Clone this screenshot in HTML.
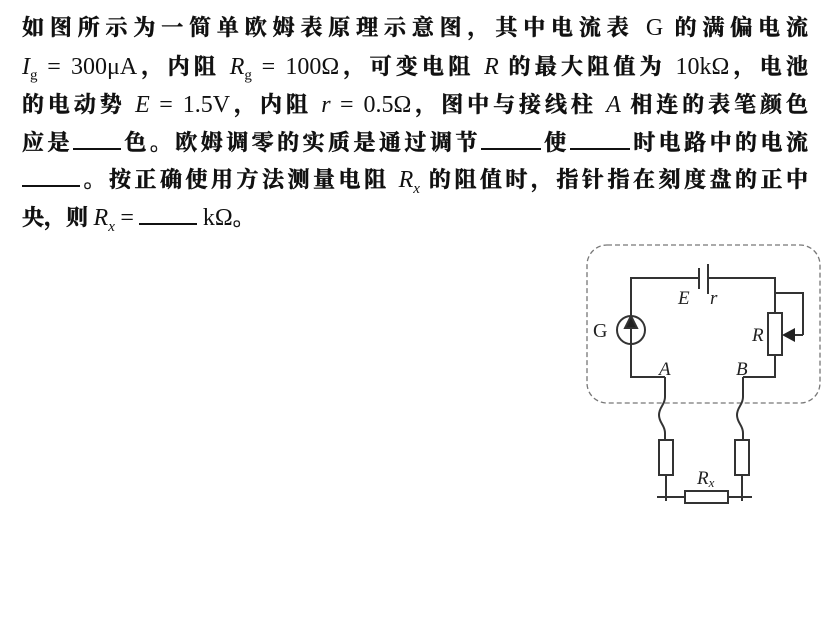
<!DOCTYPE html>
<html><head><meta charset="utf-8"><style>
body{margin:0;background:#fff;width:835px;height:620px;position:relative;overflow:hidden}
.l{position:absolute;left:22px;width:786px;height:38px;line-height:38px;font-family:"Liberation Serif","Noto Serif CJK SC",serif;font-size:22px;font-weight:bold;color:#111;text-align:justify;text-align-last:justify;white-space:nowrap;-webkit-text-stroke:0.5px #111}
.l.last{text-align-last:left}
i{font-family:"Liberation Serif",serif;font-weight:normal;font-size:24px;-webkit-text-stroke:0}
.m{font-family:"Liberation Serif",serif;font-weight:normal;font-size:24px;-webkit-text-stroke:0}
sub{font-size:15px;font-weight:normal;-webkit-text-stroke:0}
.u{display:inline-block;border-bottom:2px solid #111;height:20px;vertical-align:baseline}
</style></head><body>
<div class="l" style="top:9px">如图所示为一简单欧姆表原理示意图，其中电流表 <span class="m">G</span> 的满偏电流</div>
<div class="l" style="top:48px"><i>I</i><sub>g</sub> <span class="m">= 300μA</span>，内阻 <i>R</i><sub>g</sub> <span class="m">= 100Ω</span>，可变电阻 <i>R</i> 的最大阻值为 <span class="m">10kΩ</span>，电池</div>
<div class="l" style="top:86px">的电动势 <i>E</i> <span class="m">= 1.5V</span>，内阻 <i>r</i> <span class="m">= 0.5Ω</span>，图中与接线柱 <i>A</i> 相连的表笔颜色</div>
<div class="l" style="top:124px">应是<span class="u" style="width:48px"></span>色。欧姆调零的实质是通过调节<span class="u" style="width:60px"></span>使<span class="u" style="width:60px"></span>时电路中的电流</div>
<div class="l" style="top:161px"><span class="u" style="width:58px"></span>。按正确使用方法测量电阻 <i>R<sub>x</sub></i> 的阻值时，指针指在刻度盘的正中</div>
<div class="l last" style="top:199px">央，则 <i>R<sub>x</sub></i> <span class="m">=</span> <span class="u" style="width:58px"></span> <span class="m">kΩ</span>。</div>
<svg width="835" height="620" style="position:absolute;left:0;top:0" fill="none" stroke="#333" stroke-width="2">
<rect x="587" y="245" width="233" height="158" rx="20" stroke="#777" stroke-width="1.3" stroke-dasharray="5,3"/>
<path d="M631 316V278H699M708 278H775V293H803V335M775 293V313M775 355V377H743M631 344V377H665"/>
<path d="M699 268V289M708 264V294" stroke-width="2"/>
<circle cx="631" cy="330" r="14"/>
<path d="M631 343V322"/><path d="M631 316l-6 12h12z" fill="#222"/>
<rect x="768" y="313" width="14" height="42"/>
<path d="M803 335H790"/><path d="M782 335l13-7v14z" fill="#222" stroke="none"/>
<path d="M665 377v20c0 8-6 10-6 18s6 10 6 18v7M743 377v20c0 8-6 10-6 18s6 10 6 18v7"/>
<rect x="659" y="440" width="14" height="35"/>
<rect x="735" y="440" width="14" height="35"/>
<path d="M666 475v26M742 475v26M657 497h28M728 497h24"/>
<rect x="685" y="491" width="43" height="12"/>
<g fill="#222" stroke="none" font-family="Liberation Serif,serif" font-size="19">
<text x="593" y="337" font-size="20">G</text>
<text x="678" y="304" font-style="italic">E</text>
<text x="710" y="304" font-style="italic">r</text>
<text x="752" y="341" font-style="italic">R</text>
<text x="659" y="375" font-style="italic">A</text>
<text x="736" y="375" font-style="italic">B</text>
<text x="697" y="484" font-style="italic">R<tspan font-size="13" dy="3">x</tspan></text>
</g>
</svg>
</body></html>
